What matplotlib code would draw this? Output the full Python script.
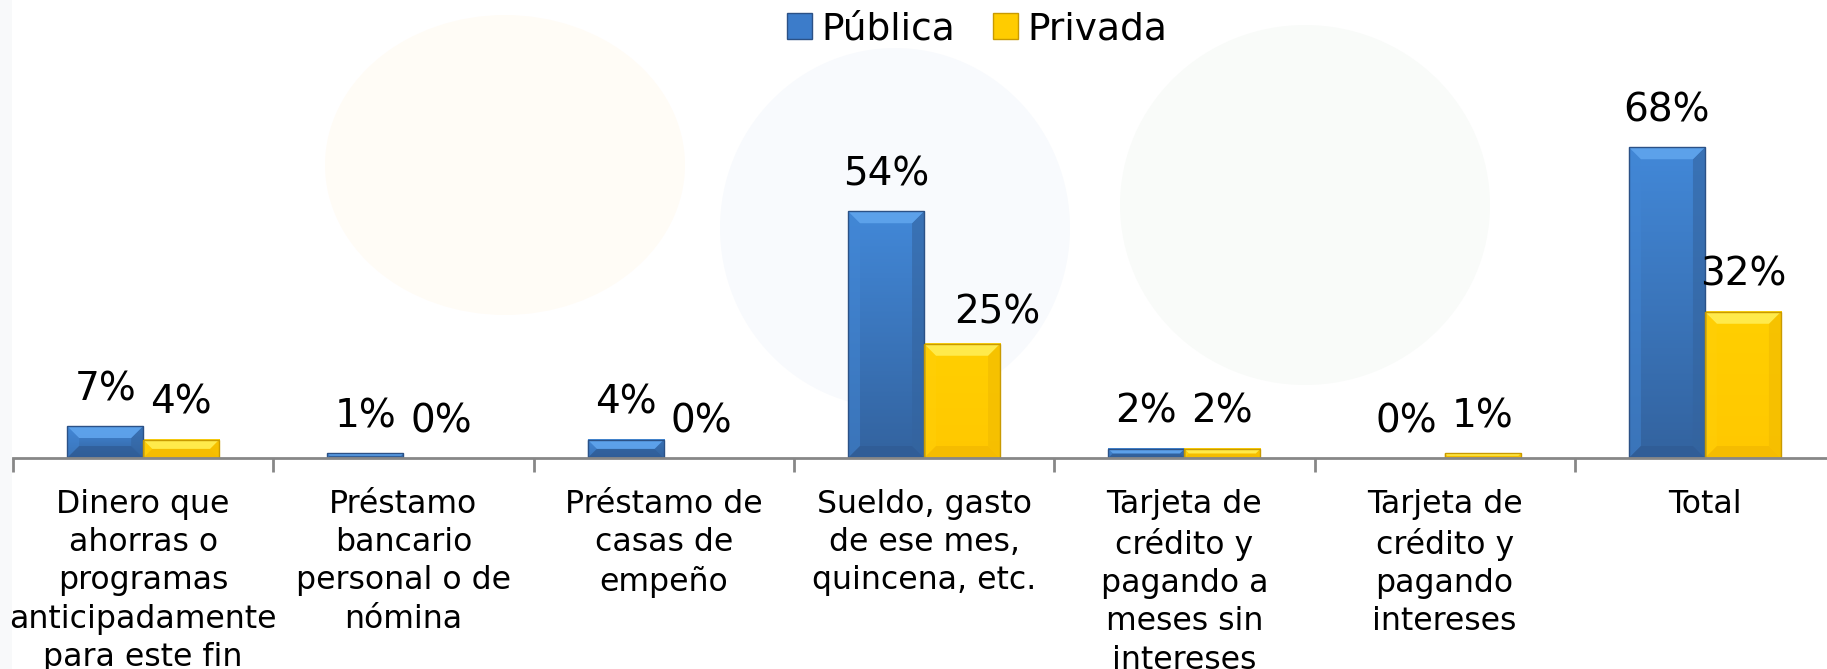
import matplotlib
matplotlib.use("Agg")
import matplotlib.pyplot as plt
import numpy as np
from matplotlib.patches import Polygon, Ellipse, Rectangle, Patch
from matplotlib.colors import LinearSegmentedColormap

# ---------------- data ----------------
categories = [
    "Dinero que\nahorras o\nprogramas\nanticipadamente\npara este fin",
    "Préstamo\nbancario\npersonal o de\nnómina",
    "Préstamo de\ncasas de\nempeño",
    "Sueldo, gasto\nde ese mes,\nquincena, etc.",
    "Tarjeta de\ncrédito y\npagando a\nmeses sin\nintereses",
    "Tarjeta de\ncrédito y\npagando\nintereses",
    "Total",
]
publica = [7, 1, 4, 54, 2, 0, 68]
privada = [4, 0, 0, 25, 2, 1, 32]
series_names = ["Pública", "Privada"]

# ---------------- styling ----------------
W, H, DPI = 1827, 669, 100
plt.rcParams["font.family"] = ["DejaVu Sans"]

styles = {
    "Pública": dict(face="#3c7cca", top_grad="#4288d8", bot_grad="#33639f",
                    light="#5ea3ec", side_l="#4286d4", side_r="#34649f",
                    bottom="#2f5b94", edge="#2b5186"),
    "Privada": dict(face="#ffcc00", top_grad="#ffcf00", bot_grad="#ffc800",
                    light="#ffec50", side_l="#ffcf08", side_r="#f0ba00",
                    bottom="#f2b800", edge="#c99a00"),
}
# manual nudge (in points) of individual data labels, as in the original slide
label_nudge = {("Privada", 3): (25, -4)}

fig = plt.figure(figsize=(W / DPI, H / DPI), dpi=DPI)
fig.patch.set_facecolor("white")

# faint watermark blobs in the background
def px_ellipse(cx, cy, w, h, color):
    e = Ellipse((cx / W, 1 - cy / H), w / W, h / H, transform=fig.transFigure,
                facecolor=color, edgecolor="none", zorder=0)
    fig.patches.append(e)

px_ellipse(505, 165, 360, 300, "#fffcf6")
px_ellipse(895, 228, 350, 360, "#f8fafd")
px_ellipse(1305, 205, 370, 360, "#f9fbf9")
fig.patches.append(Rectangle((0, 0), 12 / W, 1, transform=fig.transFigure,
                             facecolor="#f8f9fa", edgecolor="none", zorder=0))

axis_y_px = 458
left_px = 13
cat_px = 260.3
px_per_pct = 4.57
ax = fig.add_axes([left_px / W, 1 - axis_y_px / H, 7 * cat_px / W, axis_y_px / H])
ax.set_zorder(2)
ax.patch.set_alpha(0)
ax.set_xlim(-0.5, 6.5)
ax.set_ylim(0, axis_y_px / px_per_pct)

x = np.arange(len(categories))
bw = 0.292
sx = cat_px  # px per x unit
sy = px_per_pct  # px per y unit

series_vals = [publica, privada]
offsets = [-bw / 2, bw / 2]

for name, vals, off in zip(series_names, series_vals, offsets):
    st = styles[name]
    bars = ax.bar(x + off, vals, width=bw, color=st["face"], edgecolor="none",
                  zorder=3)
    for rect, v in zip(bars, vals):
        h = rect.get_height()
        if h <= 0:
            continue
        x0, w = rect.get_x(), rect.get_width()
        h_px, w_px = h * sy, w * sx
        b_px = min(12.0, h_px / 2.0, w_px / 2.0)
        bx, by = b_px / sx, b_px / sy
        cmap = LinearSegmentedColormap.from_list("g", [st["bot_grad"], st["top_grad"]])
        grad = np.linspace(0, 1, 64).reshape(-1, 1)
        ax.imshow(grad, extent=[x0, x0 + w, 0, h], origin="lower", cmap=cmap,
                  aspect="auto", zorder=3.1, interpolation="bilinear")
        polys = [
            ([(x0, 0), (x0, h), (x0 + bx, h - by), (x0 + bx, by)], st["side_l"], 0.5),
            ([(x0 + w, 0), (x0 + w, h), (x0 + w - bx, h - by), (x0 + w - bx, by)], st["side_r"], 0.6),
            ([(x0, 0), (x0 + w, 0), (x0 + w - bx, by), (x0 + bx, by)], st["bottom"], 0.7),
            ([(x0, h), (x0 + w, h), (x0 + w - bx, h - by), (x0 + bx, h - by)], st["light"], 0.95),
        ]
        for pts, c, a in polys:
            ax.add_patch(Polygon(pts, closed=True, facecolor=c, edgecolor="none",
                                 alpha=a, zorder=3.2))
        ax.add_patch(Rectangle((x0, 0), w, h, fill=False, edgecolor=st["edge"],
                               linewidth=1.0, zorder=3.3))
    for i, (rect, v) in enumerate(zip(bars, vals)):
        dx, dy = label_nudge.get((name, i), (0, 0))
        ax.annotate(f"{v}%", (rect.get_x() + rect.get_width() / 2, rect.get_height()),
                    xytext=(dx, 18.7 + dy), textcoords="offset points", ha="center",
                    va="baseline", fontsize=28, color="black", zorder=5)

ax.set_xlim(-0.5, 6.5)
ax.set_ylim(0, axis_y_px / px_per_pct)

for s in ["top", "left", "right"]:
    ax.spines[s].set_visible(False)
ax.spines["bottom"].set_color("#878787")
ax.spines["bottom"].set_linewidth(2)
ax.spines["bottom"].set_zorder(4)
ax.set_yticks([])
ax.set_xticks(x)
ax.set_xticklabels(categories, fontsize=22.7, linespacing=1.31, color="black")
ax.set_xticks(np.arange(-0.5, 7, 1), minor=True)
ax.tick_params(axis="x", which="major", length=0, pad=22)
ax.tick_params(axis="x", which="minor", length=10, width=2, color="#878787",
               direction="out")

handles = [Patch(facecolor=styles[n]["face"], edgecolor=styles[n]["edge"]) for n in series_names]
fig.legend(handles, series_names, loc="center", bbox_to_anchor=(977 / W, 1 - 29 / H),
           ncol=2, frameon=False, fontsize=27, handlelength=0.68, handleheight=0.68,
           handletextpad=0.25, columnspacing=1.0, borderaxespad=0, borderpad=0)

fig.savefig("out.png", dpi=DPI)
